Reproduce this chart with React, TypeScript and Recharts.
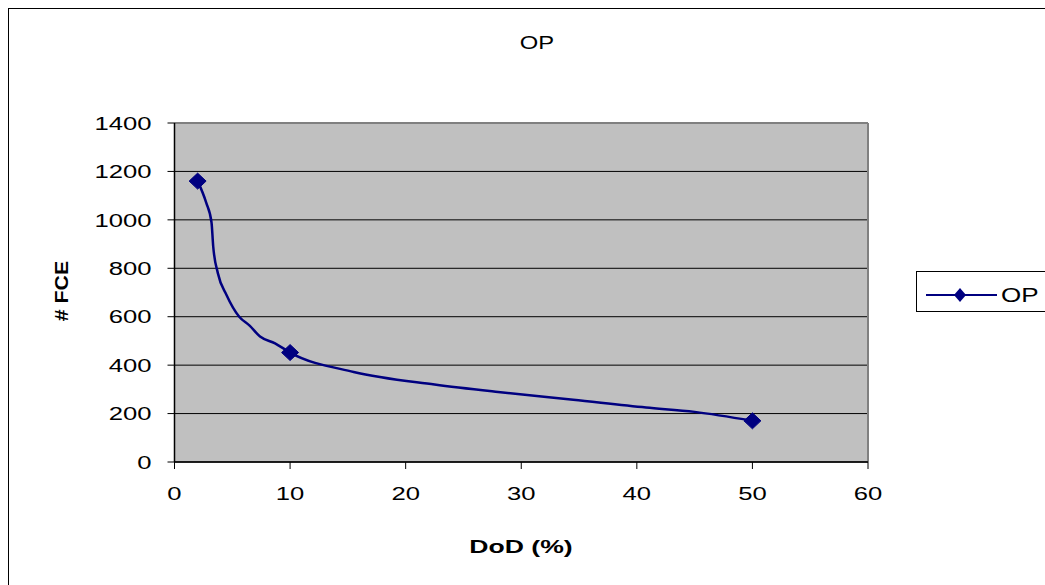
import React from 'react';
import {
  ComposedChart,
  Line,
  XAxis,
  YAxis,
  CartesianGrid,
  ReferenceLine,
  Legend,
  Label,
} from 'recharts';

// DoD (%) vs number of full cycle equivalents
const dod = [2, 2.75, 3.2, 3.35, 3.75, 4.5, 5.6, 6.5, 7.4, 8.7, 10, 15.5, 22.5, 28, 34.5, 40.8, 45, 50];
const fce = [1160, 1070, 990, 890, 780, 690, 600, 563, 518, 490, 452, 372, 320, 289, 257, 225, 207, 170];
// points that carry a marker
const markedDod = [2, 10, 50];

const xTicks = [0, 10, 20, 30, 40, 50, 60];
const yTicks = [0, 200, 400, 600, 800, 1000, 1200, 1400];

const seriesName = 'OP';
const NAVY = '#000080';
const FONT = '"Liberation Sans", Arial, sans-serif';

const data = dod.map((d, i) => ({ dod: d, fce: fce[i] }));

const XTick = ({ x, y, payload }: any) => (
  <g transform={`translate(${x},${y})`}>
    <text transform="scale(1.35,1)" textAnchor="middle" dy="0.71em" fontSize={19} fontFamily={FONT} fill="#000">
      {payload.value}
    </text>
  </g>
);

const YTick = ({ x, y, payload }: any) => (
  <g transform={`translate(${x},${y})`}>
    <text transform="scale(1.35,1)" textAnchor="end" dy="0.355em" fontSize={19} fontFamily={FONT} fill="#000">
      {payload.value}
    </text>
  </g>
);

const Diamond = (props: any) => {
  const { cx, cy, payload, index } = props;
  if (!markedDod.includes(payload.dod)) return <g key={`d${index}`} />;
  return (
    <path
      key={`d${index}`}
      d={`M${cx},${cy - 8} L${cx + 8.5},${cy} L${cx},${cy + 8} L${cx - 8.5},${cy} Z`}
      fill={NAVY}
      stroke={NAVY}
    />
  );
};

const LegendBox = () => (
  <div style={{ border: '1px solid #000', width: 140, height: 41, boxSizing: 'border-box', background: '#fff' }}>
    <svg width={140} height={40}>
      <line x1={9} y1={23} x2={80} y2={23} stroke={NAVY} strokeWidth={2} />
      <path d="M43,16 L49,23 L43,30 L37,23 Z" fill={NAVY} />
      <g transform="translate(84,30)">
        <text transform="scale(1.3,1)" fontSize={20} fontFamily={FONT} fill="#000">
          {seriesName}
        </text>
      </g>
    </svg>
  </div>
);

export default function App() {
  return (
    <div style={{ position: 'absolute', left: 0, top: 0, width: 1045, height: 585, background: '#fff', overflow: 'hidden' }}>
      <div style={{ position: 'absolute', left: 8, top: 8, width: 1200, height: 700, border: '1px solid #000' }} />
      <svg style={{ position: 'absolute', left: 0, top: 0 }} width={1045} height={80}>
        <g transform="translate(537,49)">
          <text transform="scale(1.25,1)" textAnchor="middle" fontSize={19} fontFamily={FONT} fill="#000">
            {seriesName}
          </text>
        </g>
      </svg>
      <div style={{ position: 'absolute', left: 0, top: 0 }}>
        <ComposedChart width={1045} height={585} data={data} margin={{ top: 123, right: 177, bottom: 63, left: 100 }}>
          <CartesianGrid horizontal vertical={false} fill="#C0C0C0" stroke="#000" />
          <XAxis
            type="number"
            dataKey="dod"
            domain={[0, 60]}
            ticks={xTicks}
            interval={0}
            height={60}
            tickSize={7}
            tickMargin={18}
            tick={<XTick />}
            axisLine={{ stroke: '#000', strokeWidth: 1.5 }}
            tickLine={{ stroke: '#000' }}
          >
            <Label
              content={() => (
                <g transform="translate(521,553)">
                  <text transform="scale(1.4,1)" textAnchor="middle" fontSize={19} fontWeight="bold" fontFamily={FONT} fill="#000">
                    DoD (%)
                  </text>
                </g>
              )}
            />
          </XAxis>
          <YAxis
            type="number"
            domain={[0, 1400]}
            ticks={yTicks}
            interval={0}
            width={74.5}
            tickSize={7}
            tickMargin={16}
            tick={<YTick />}
            axisLine={{ stroke: '#000', strokeWidth: 1.5 }}
            tickLine={{ stroke: '#000' }}
          >
            <Label
              content={() => (
                <g transform="translate(68,291) rotate(-90)">
                  <text transform="scale(1.12,1)" textAnchor="middle" fontSize={19} fontWeight="bold" fontFamily={FONT} fill="#000">
                    # FCE
                  </text>
                </g>
              )}
            />
          </YAxis>
          <ReferenceLine y={1400} stroke="#808080" strokeWidth={2} />
          <ReferenceLine x={60} stroke="#808080" strokeWidth={2} />
          <Line
            type="monotone"
            dataKey="fce"
            name={seriesName}
            stroke={NAVY}
            strokeWidth={2.5}
            dot={Diamond}
            activeDot={false}
            isAnimationActive={false}
          />
          <Legend
            layout="vertical"
            align="center"
            verticalAlign="middle"
            content={<LegendBox />}
            wrapperStyle={{ left: 916, top: 271, width: 140, height: 41 }}
          />
        </ComposedChart>
      </div>
    </div>
  );
}
